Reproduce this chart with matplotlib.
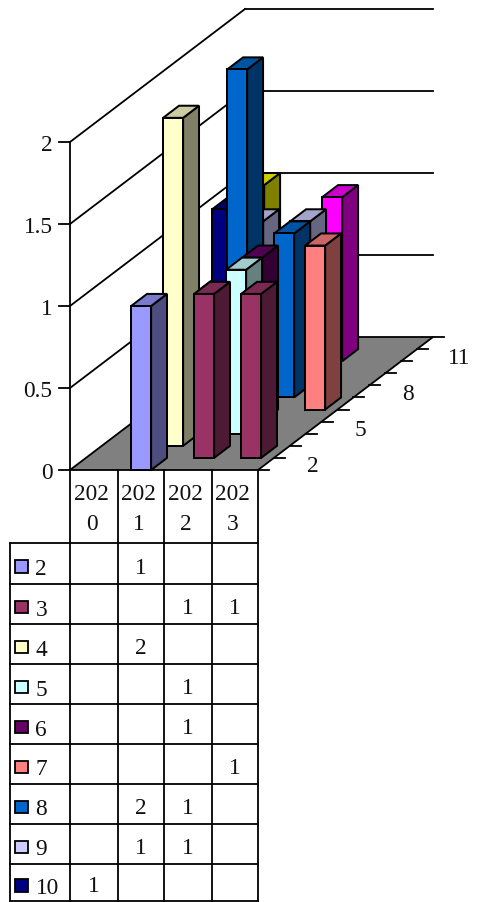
import matplotlib
matplotlib.use("Agg")
import matplotlib.pyplot as plt
from matplotlib.patches import Polygon, Rectangle
from matplotlib.colors import to_rgb

# ---- data ----
years = ["2020", "2021", "2022", "2023"]
series_names = ["2", "3", "4", "5", "6", "7", "8", "9", "10", "11", "12"]
s2 = [None, 1, None, None]
s3 = [None, None, 1, 1]
s4 = [None, 2, None, None]
s5 = [None, None, 1, None]
s6 = [None, None, 1, None]
s7 = [None, None, None, 1]
s8 = [None, 2, 1, None]
s9 = [None, 1, 1, None]
s10 = [1, None, None, None]
s11 = [None, None, 1, None]
s12 = [1, None, None, None]
series_values = [s2, s3, s4, s5, s6, s7, s8, s9, s10, s11, s12]
colors = ["#9999FF", "#993366", "#FFFFCC", "#CCFFFF", "#660066", "#FF8080",
          "#0066CC", "#CCCCFF", "#000080", "#FF00FF", "#FFFF00"]
value_ticks = [0, 0.5, 1, 1.5, 2]
value_tick_labels = ["0", "0.5", "1", "1.5", "2"]
shown_depth_labels = ["2", "5", "8", "11"]
table_rows = 9  # the series 11 and 12 rows are cut off in the original

# ---- layout ----
W, H = 479, 903
X0, Y0 = 70.0, 470.0        # front-left floor corner
YEAR_W = 47.0
DEPTH_DX, DEPTH_DY = 175.0 / 11, -133.0 / 11
VALUE_H = 164.0
BAR_W = 20.0
BAR_SHIFT = 0.6
BAR_SKEW = 0.1
LW = 1.3
INK = "black"
FONT = "Liberation Serif"
FS = 16.8


def project(x, d, v):
    """x: year position, d: series depth, v: value -> canvas position."""
    return (X0 + x * YEAR_W + d * DEPTH_DX, Y0 + d * DEPTH_DY - v * VALUE_H)


def shade(c, k):
    return tuple(k * a for a in to_rgb(c))


fig = plt.figure(figsize=(W / 100, H / 100), dpi=100)
ax = fig.add_axes([0, 0, 1, 1])
ax.set_xlim(0, W)
ax.set_ylim(H - 1, -1)
ax.axis("off")

n_years = len(years)
n_series = len(series_names)


def line(p, q, lw=LW, z=1):
    ax.plot([p[0], q[0]], [p[1], q[1]], color=INK, lw=lw, zorder=z,
            solid_capstyle="projecting")


def txt(x, y, s, ha="center"):
    ax.text(x, y, s, ha=ha, va="baseline", family=FONT, fontsize=FS,
            color="#111111", zorder=10)


# walls: gridlines and value axis
line(project(0, 0, 0), project(0, 0, max(value_ticks)))
for v, lab in zip(value_ticks, value_tick_labels):
    p = project(0, 0, v)
    if v > 0:
        line(p, project(0, n_series, v))
        line(project(0, n_series, v), project(n_years, n_series, v))
    line((p[0] - 11, p[1]), p)
    txt(p[0] - 17.5, p[1] + 8, lab, ha="right")

# floor
floor = [project(0, 0, 0), project(n_years, 0, 0),
         project(n_years, n_series, 0), project(0, n_series, 0)]
ax.add_patch(Polygon(floor, closed=True, fc="#808080", ec=INK, lw=LW, zorder=2))

# depth axis ticks
for d in range(n_series + 1):
    p = project(n_years, d, 0)
    line(p, (p[0] + 11, p[1]), z=2)
for d, name in enumerate(series_names):
    if name in shown_depth_labels:
        p = project(n_years, d + 0.5, 0)
        txt(p[0] + 47 + (3 if len(name) > 1 else 0), p[1] + 7.5, name)

# bars, back to front, left to right
z = 3.0
for d in range(n_series - 1, -1, -1):
    for i, v in enumerate(series_values[d]):
        if v is None:
            continue
        half = BAR_W / 2 / YEAR_W
        shift = (BAR_SHIFT + BAR_SKEW * d) / YEAR_W
        xl, xr = i + 0.5 - half + shift, i + 0.5 + half + shift
        c = colors[d]
        top = [project(xl, d, v), project(xr, d, v),
               project(xr, d + 1, v), project(xl, d + 1, v)]
        side = [project(xr, d, 0), project(xr, d + 1, 0),
                project(xr, d + 1, v), project(xr, d, v)]
        front = [project(xl, d, 0), project(xr, d, 0),
                 project(xr, d, v), project(xl, d, v)]
        for pts, col in ((side, shade(c, 0.5)), (top, shade(c, 0.8)), (front, c)):
            ax.add_patch(Polygon(pts, closed=True, fc=col, ec=INK, lw=LW * 1.1,
                                 joinstyle="miter", zorder=z))
            z += 0.001

# data table
TOP, HEAD_B = 470.0, 543.0
ROW_Y = [543, 584, 624, 664, 704, 744, 784, 824, 864, 901]
LEFT = 10.0
col_x = [70, 118, 164, 212, 258]
for cx in col_x:
    line((cx, TOP), (cx, ROW_Y[-1]), z=6)
line((LEFT, HEAD_B), (LEFT, ROW_Y[-1]), z=6)
for y in ROW_Y:
    line((LEFT, y), (col_x[-1], y), z=6)

for k, yr in enumerate(years):
    cx = (col_x[k] + col_x[k + 1]) / 2
    txt(cx - 2.5, 499, yr[:3])
    txt(cx - 2.5, 529, yr[3:])

for r in range(table_rows):
    yc = (ROW_Y[r] + ROW_Y[r + 1]) / 2
    ax.add_patch(Rectangle((15.5, yc - 3.5), 12.5, 12.5, fc=colors[r], ec=INK,
                           lw=LW, zorder=7))
    txt(35.5, yc + 10.5, series_names[r], ha="left")
    for k, v in enumerate(series_values[r]):
        if v is not None:
            txt((col_x[k] + col_x[k + 1]) / 2 - 0.5, yc + 9, str(v))

fig.savefig("out.png", dpi=100)
